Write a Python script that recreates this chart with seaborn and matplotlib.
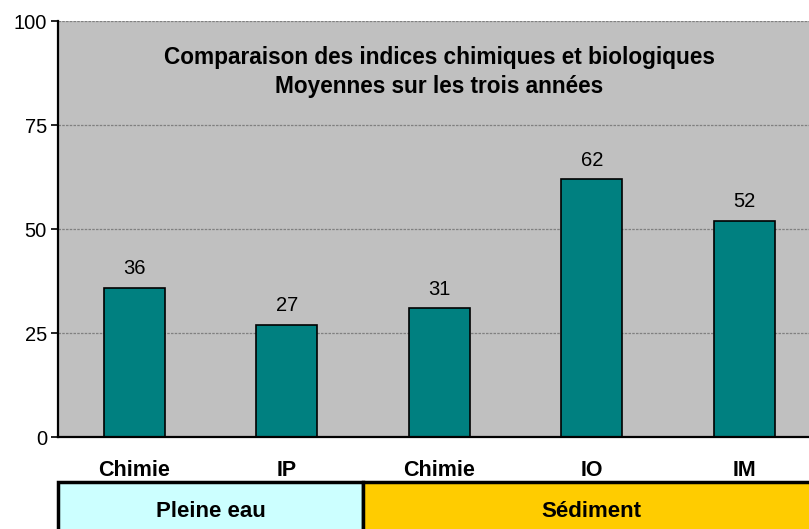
import pandas as pd
import numpy as np
import matplotlib.pyplot as plt
import seaborn as sns
from matplotlib.patches import Rectangle
from matplotlib.transforms import blended_transform_factory

# --- DONNEES ---
indices = ["Chimie", "IP", "Chimie", "IO", "IM"]
valeurs = [36, 27, 31, 62, 52]
groupes = ["Pleine eau", "Sédiment"]
taille_groupes = [2, 3]
couleurs_groupes = ["#CCFFFF", "#FFCC00"]
yticks = [0, 25, 50, 75, 100]
titre = "Comparaison des indices chimiques et biologiques\nMoyennes sur les trois années"

sns.set_style("white")
plt.rcParams['font.family'] = ['Liberation Sans', 'DejaVu Sans']
plt.rcParams['text.color'] = "black"
plt.rcParams['xtick.color'] = "black"
plt.rcParams['ytick.color'] = "black"

df = pd.DataFrame({"pos": range(len(indices)), "valeur": valeurs})

fig = plt.figure(figsize=(8.09, 5.29), dpi=100)
ax = fig.add_axes([0.0717, 0.173, 0.9425, 0.787])
ax.set_facecolor("#C0C0C0")

sns.barplot(data=df, x="pos", y="valeur", color="#008080", width=0.4,
            edgecolor="black", linewidth=1.2, saturation=1, ax=ax)

ax.set_xlim(-0.5, len(indices) - 0.5)
ax.set_ylim(0, 100)
ax.set_yticks(yticks)
ax.yaxis.grid(True, color="#808080", linestyle=(0, (2, 1)), linewidth=0.9)
ax.set_axisbelow(True)

# graduations aux limites, libelles au centre
ax.set_xticks(np.arange(-0.5, len(indices)), labels=[""] * (len(indices) + 1))
ax.set_xticks(np.arange(len(indices)), labels=indices, minor=True)
ax.tick_params(axis="x", which="major", length=5, width=1.2, direction="out", color="black")
ax.tick_params(axis="x", which="minor", length=0, pad=16, labelsize=15.5)
for lab in ax.get_xticklabels(minor=True):
    lab.set_fontweight("bold")
ax.tick_params(axis="y", length=5, width=1.2, direction="out", color="black",
               labelsize=14.5, pad=3, left=True)
ax.set_xlabel("")
ax.set_ylabel("")

for s in ["top", "right"]:
    ax.spines[s].set_visible(False)
for s in ["left", "bottom"]:
    ax.spines[s].set_color("black")
    ax.spines[s].set_linewidth(1.6)

# etiquettes des barres
for p, v in zip(df["pos"], df["valeur"]):
    ax.annotate(f"{v}", (p, v), xytext=(0, 7), textcoords="offset points",
                ha="center", va="bottom", fontsize=14.5)

ax.text(0.5, 0.878, titre, transform=ax.transAxes, ha="center", va="center",
        fontsize=16.3, fontweight="bold", linespacing=1.35)

# tableau des groupes
trans = blended_transform_factory(ax.transData, fig.transFigure)
debut = -0.5
for nom, n, c in zip(groupes, taille_groupes, couleurs_groupes):
    r = Rectangle((debut, -0.05), n, 0.139, transform=trans, facecolor=c,
                  edgecolor="black", linewidth=2.5, clip_on=False, zorder=1)
    fig.add_artist(r)
    t = plt.Text(debut + n / 2, 0.034, nom, transform=trans, ha="center", va="center",
                 fontsize=16, fontweight="bold", color="black", zorder=2)
    fig.add_artist(t)
    debut += n

fig.savefig("out.png", dpi=100)
